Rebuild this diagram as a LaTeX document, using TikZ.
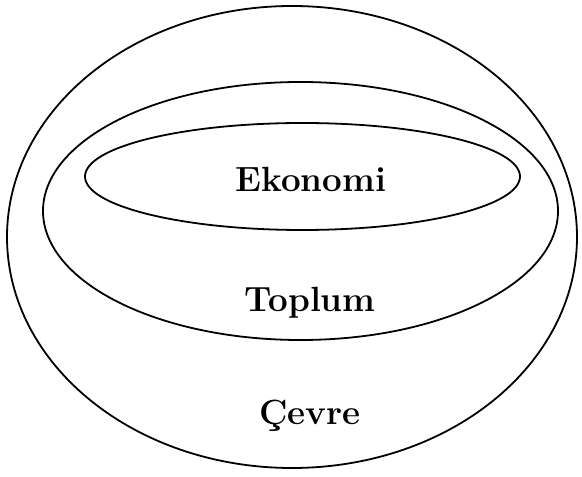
\documentclass[tikz,border=0pt]{standalone}
\usetikzlibrary{shapes.geometric}
\begin{document}
\begin{tikzpicture}[x=1pt,y=1pt,
  ring/.style={draw=black,line width=1.8pt,ellipse,inner sep=0pt,minimum width=#1},
  lbl/.style={font=\fontsize{35}{40}\selectfont\bfseries,anchor=base,inner sep=0pt}]
\useasboundingbox (0,0) rectangle (582,477);
\node[ring=570pt,minimum height=462pt] (cevre) at (292,240) {};
\node[ring=515pt,minimum height=258pt] (toplum) at (300.5,266) {};
\node[ring=435pt,minimum height=107pt] (ekonomi) at (302.5,300.5) {};
\node[lbl] (tekonomi) at (311,285) {Ekonomi};
\node[lbl] (ttoplum) at (310,165) {Toplum};
\node[lbl] (tcevre) at (310,52) {Çevre};
\end{tikzpicture}
\end{document}
